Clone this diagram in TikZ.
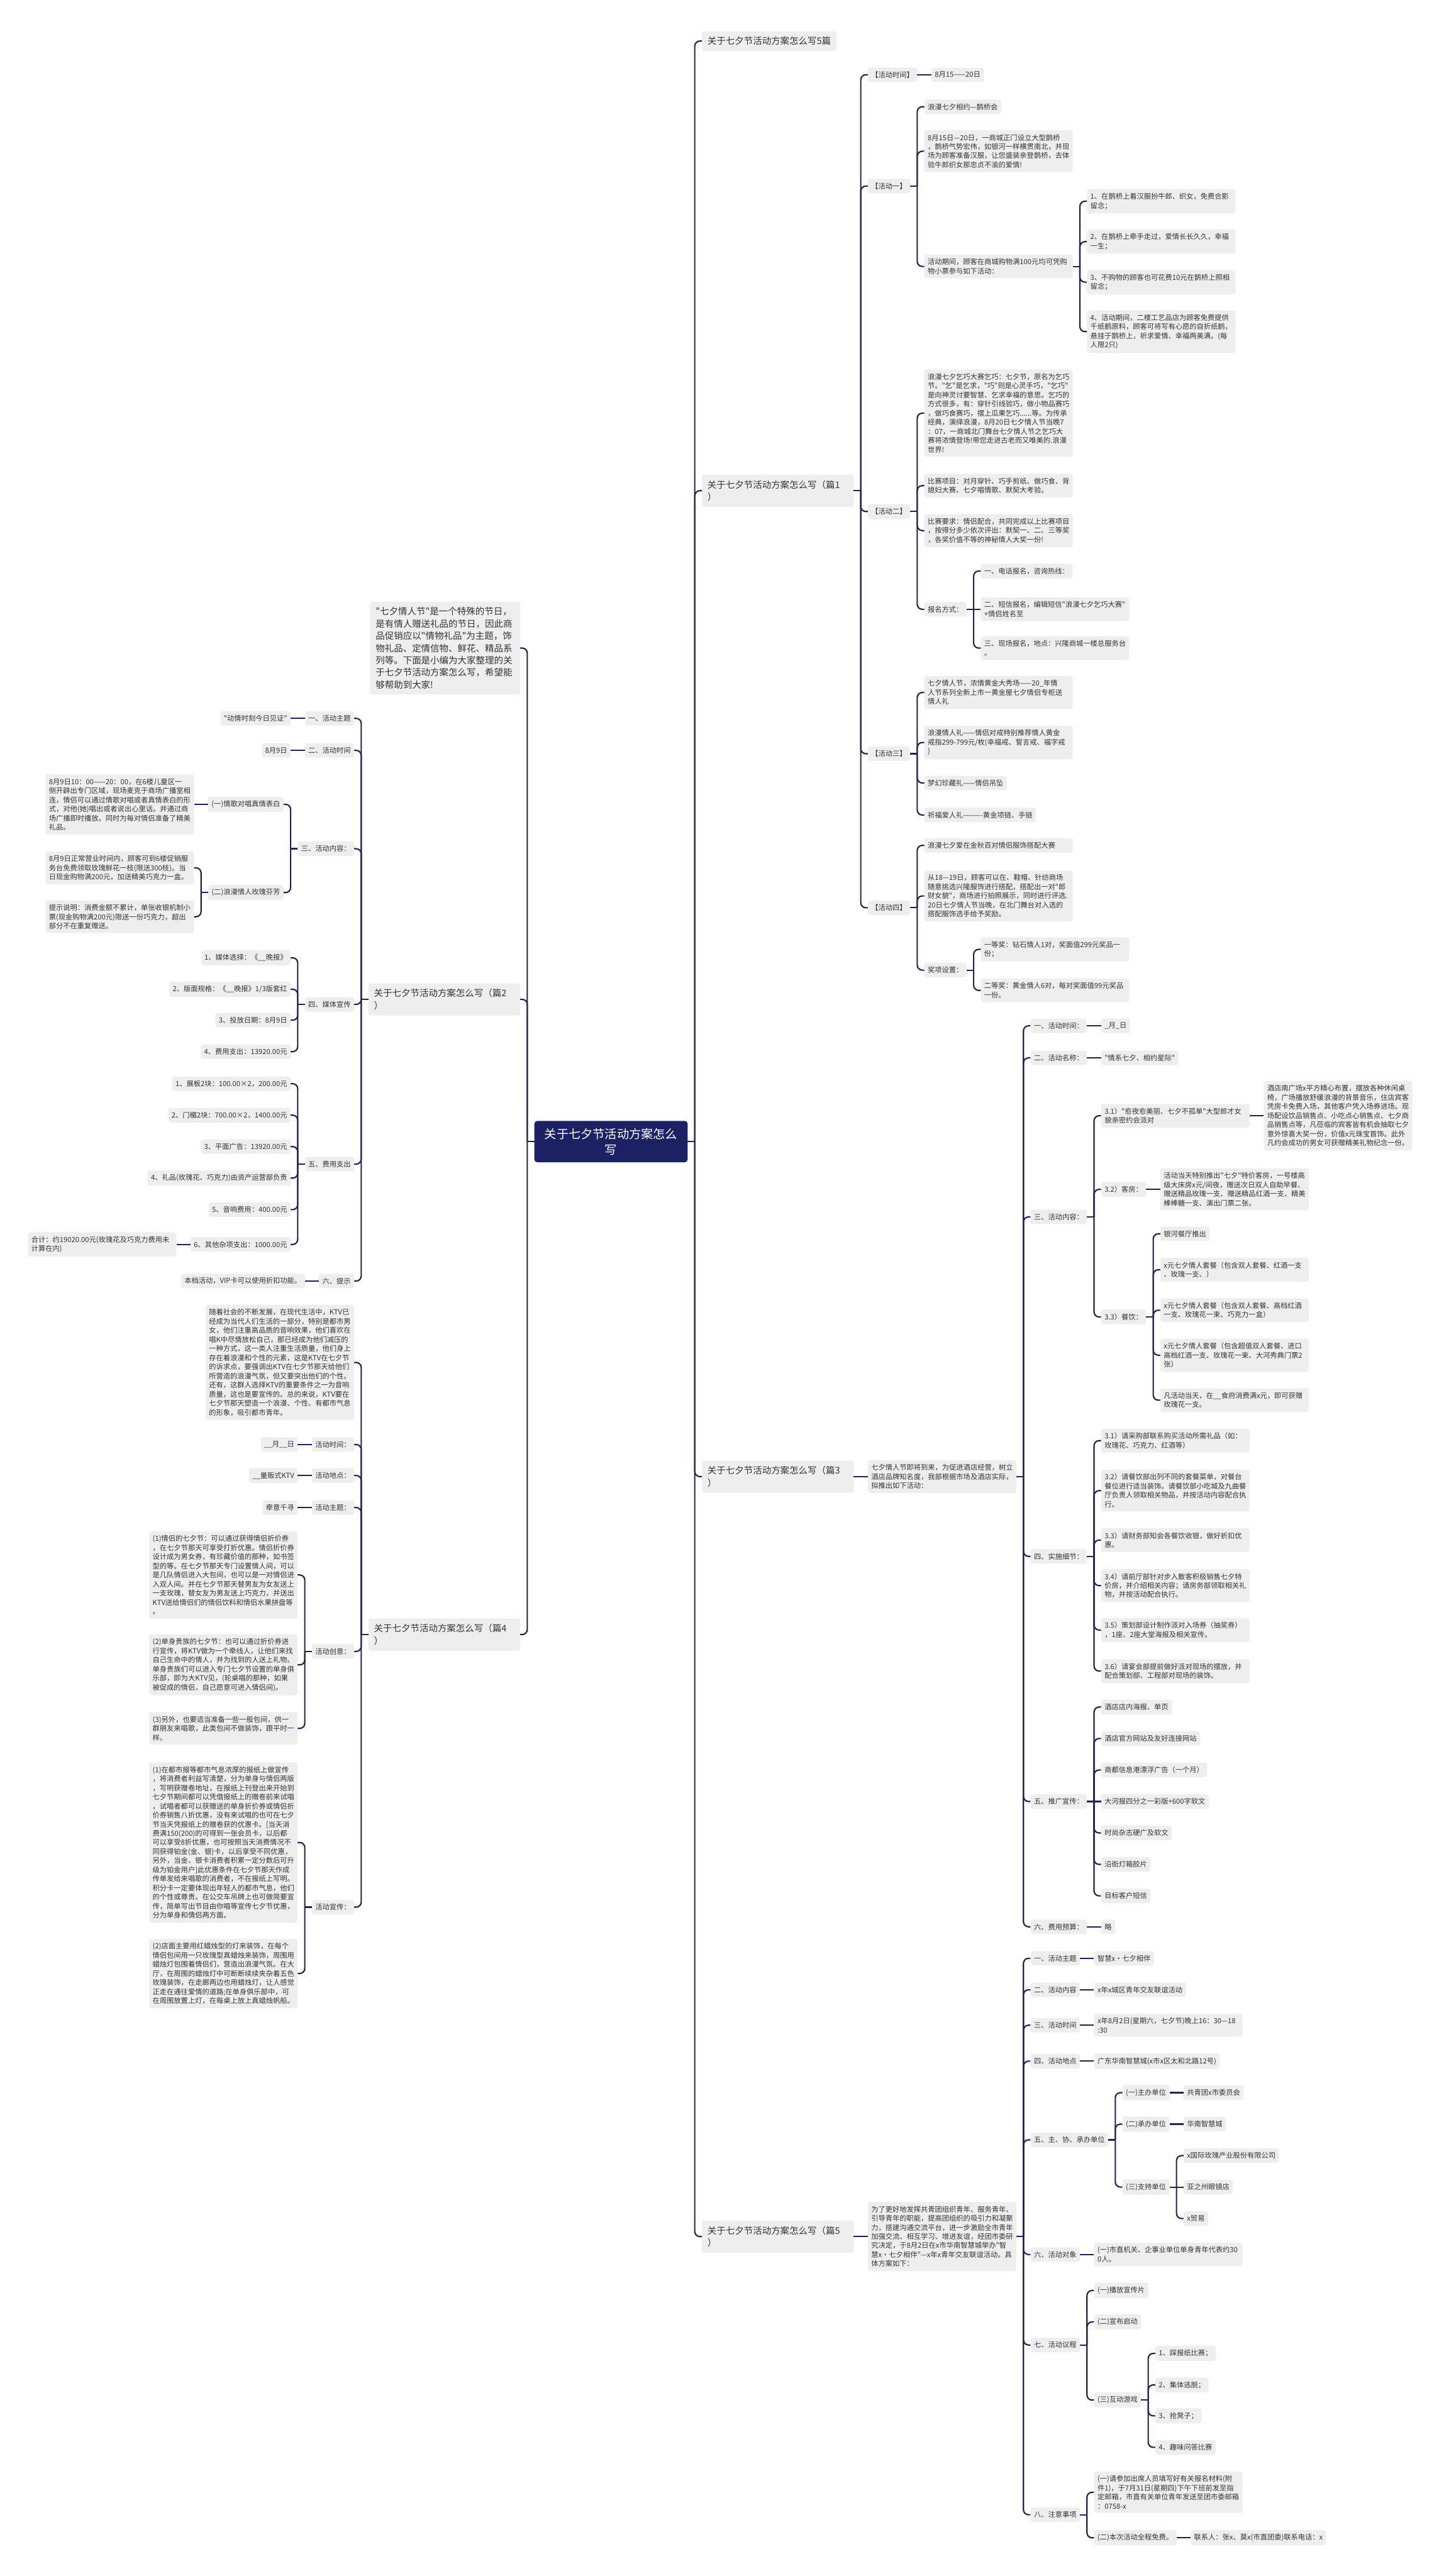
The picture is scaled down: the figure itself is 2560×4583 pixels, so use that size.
\documentclass[tikz,border=0pt]{standalone}
\usepackage{fontspec}
\newfontfamily\cjk{Noto Sans CJK SC}[Ligatures=TeXOff]
\definecolor{ngray}{HTML}{EEEEEE}
\definecolor{txtC}{HTML}{333333}
\definecolor{lineC}{HTML}{1E2350}
\definecolor{rootC}{HTML}{1C2163}
\tikzset{
  conn/.style={draw=lineC,line width=2.4pt},
  base/.style={fill=ngray,text=txtC,rounded corners=4pt,align=left},
  nd/.style={base,font=\cjk\fontsize{12.6}{16.2}\selectfont,inner xsep=6pt,inner ysep=7pt},
  ndw/.style={nd,text width=252pt},
  lvA/.style={base,font=\cjk\fontsize{16.2}{21.7}\selectfont,inner xsep=10pt,inner ysep=10pt},
  lvAw/.style={lvA,text width=250pt},
  introS/.style={lvA,text width=247pt},
  rootS/.style={fill=rootC,text=white,rounded corners=5pt,align=center,font=\cjk\fontsize{21.5}{28}\selectfont,inner xsep=18pt,inner ysep=13pt},
}
\newcommand\brR[5]{%
  \node[#4,anchor=west] (#1) at ([xshift=25pt]#2.east |- 0,#3) {#5};
  \draw[conn] (#2.east) -- ([xshift=12.5pt]#2.east);
  \draw[conn,rounded corners=9pt] ([xshift=12.5pt]#2.east) |- (#1.west);
}
\newcommand\brL[5]{%
  \node[#4,anchor=east] (#1) at ([xshift=-25pt]#2.west |- 0,#3) {#5};
  \draw[conn] (#2.west) -- ([xshift=-12.5pt]#2.west);
  \draw[conn,rounded corners=9pt] ([xshift=-12.5pt]#2.west) |- (#1.east);
}
\newcommand\stR[4]{%
  \node[#3,anchor=west] (#1) at ([xshift=25pt]#2.east) {#4};
  \draw[conn] (#2.east) -- (#1.west);
}
\newcommand\stL[4]{%
  \node[#3,anchor=east] (#1) at ([xshift=-25pt]#2.west) {#4};
  \draw[conn] (#2.west) -- (#1.east);
}
\begin{document}
\begin{tikzpicture}[x=1pt,y=-1pt]
\fill[white] (0,0) rectangle (2560,4583);
\useasboundingbox (0,0) rectangle (2560,4583);

\node[rootS] (root) at (1087,2031) {关于七夕节活动方案怎么\\写};

% ---------- right side ----------
\brR{r0}{root}{73}{lvA}{关于七夕节活动方案怎么写5篇}
\brR{r1}{root}{873}{lvAw}{关于七夕节活动方案怎么写（篇1\\）}
\brR{r3}{root}{2627}{lvAw}{关于七夕节活动方案怎么写（篇3\\）}
\brR{r5}{root}{3979}{lvAw}{关于七夕节活动方案怎么写（篇5\\）}

% 篇1
\brR{a0}{r1}{133}{nd}{【活动时间】}
\stR{a0a}{a0}{nd}{8月15——20日}
\brR{a1}{r1}{331}{nd}{【活动一】}
\brR{a1a}{a1}{190}{nd}{浪漫七夕相约—鹊桥会}
\brR{a1b}{a1}{269}{ndw}{8月15日—20日，一商城正门设立大型鹊桥\\，鹊桥气势宏伟，如银河一样横贯南北，并现\\场为顾客准备汉服，让您盛装亲登鹊桥，去体\\验牛郎织女那忠贞不渝的爱情!}
\brR{a1c}{a1}{474}{ndw}{活动期间，顾客在商城购物满100元均可凭购\\物小票参与如下活动：}
\brR{a1c1}{a1c}{358}{ndw}{1、在鹊桥上着汉服扮牛郎、织女，免费合影\\留念；}
\brR{a1c2}{a1c}{430}{ndw}{2、在鹊桥上牵手走过，爱情长长久久，幸福\\一生；}
\brR{a1c3}{a1c}{502}{ndw}{3、不购物的顾客也可花费10元在鹊桥上照相\\留念；}
\brR{a1c4}{a1c}{590}{ndw}{4、活动期间，二楼工艺品店为顾客免费提供\\千纸鹤原料，顾客可将写有心愿的自折纸鹤，\\悬挂于鹊桥上，祈求爱情、幸福两美满。(每\\人限2只)}
\brR{a2}{r1}{910}{nd}{【活动二】}
\brR{a2a}{a2}{735}{ndw}{浪漫七夕乞巧大赛乞巧：七夕节，原名为乞巧\\节。"乞"是乞求，"巧"则是心灵手巧，"乞巧"\\是向神灵讨要智慧、乞求幸福的意思。乞巧的\\方式很多，有：穿针引线验巧，做小物品赛巧\\，做巧食赛巧，摆上瓜果乞巧......等。为传承\\经典，演绎浪漫，8月20日七夕情人节当晚7\\：07，一商城北门舞台七夕情人节之乞巧大\\赛将浓情登场!带您走进古老而又唯美的.浪漫\\世界!}
\brR{a2b}{a2}{864}{ndw}{比赛项目：对月穿针、巧手剪纸、做巧食、背\\媳妇大赛、七夕唱情歌、默契大考验。}
\brR{a2c}{a2}{944}{ndw}{比赛要求：情侣配合，共同完成以上比赛项目\\，按得分多少依次评出：默契一、二、三等奖\\，各奖价值不等的神秘情人大奖一份!}
\brR{a2d}{a2}{1084}{nd}{报名方式：}
\brR{a2d1}{a2d}{1016}{nd}{一、电话报名，咨询热线：}
\stR{a2d2}{a2d}{ndw}{二、短信报名，编辑短信"浪漫七夕乞巧大赛"\\+情侣姓名至}
\brR{a2d3}{a2d}{1153}{ndw}{三、现场报名，地点：兴隆商城一楼总服务台\\。}
\brR{a3}{r1}{1341}{nd}{【活动三】}
\brR{a3a}{a3}{1232}{ndw}{七夕情人节，浓情黄金大秀场——20\_年情\\人节系列全新上市一黄金屋七夕情侣专柜送\\情人礼}
\brR{a3b}{a3}{1321}{ndw}{浪漫情人礼——情侣对戒特别推荐情人黄金\\戒指299-799元/枚(幸福戒、誓言戒、福字戒\\)}
\brR{a3c}{a3}{1393}{nd}{梦幻珍藏礼——情侣吊坠}
\brR{a3d}{a3}{1450}{nd}{祈福爱人礼———-黄金项链、手链}
\brR{a4}{r1}{1615}{nd}{【活动四】}
\brR{a4a}{a4}{1504}{ndw}{浪漫七夕爱在金秋百对情侣服饰搭配大赛}
\brR{a4b}{a4}{1594}{ndw}{从18—19日，顾客可以在、鞋帽、针纺商场\\随意挑选兴隆服饰进行搭配，搭配出一对"郎\\财女貌"，商场进行拍照展示，同时进行评选.\\20日七夕情人节当晚，在北门舞台对入选的\\搭配服饰选手给予奖励。}
\brR{a4c}{a4}{1726}{nd}{奖项设置：}
\brR{a4c1}{a4c}{1689}{ndw}{一等奖：钻石情人1对，奖面值299元奖品一\\份；}
\brR{a4c2}{a4c}{1762}{ndw}{二等奖：黄金情人6对，每对奖面值99元奖品\\一份。}

% 篇3
\stR{b0}{r3}{ndw}{七夕情人节即将到来，为促进酒店经营，树立\\酒店品牌知名度，我部根据市场及酒店实际，\\拟推出如下活动：}
\brR{b1}{b0}{1825}{nd}{一、活动时间：}
\stR{b1a}{b1}{nd}{\_月\_日}
\brR{b2}{b0}{1882}{nd}{二、活动名称：}
\stR{b2a}{b2}{nd}{"情系七夕、相约星际"}
\brR{b3}{b0}{2165}{nd}{三、活动内容：}
\brR{b31}{b3}{1985}{ndw}{3.1）"愈夜愈美丽、七夕不孤单"大型郎才女\\貌亲密约会派对}
\stR{b31a}{b31}{ndw}{酒店南广场x平方精心布置，摆放各种休闲桌\\椅，广场播放舒缓浪漫的背景音乐，住店宾客\\凭房卡免费入场，其他客户凭入场券进场。现\\场配设饮品销售点、小吃点心销售点、七夕商\\品销售点等，凡莅临的宾客皆有机会抽取七夕\\意外惊喜大奖一份，价值x元珠宝首饰。此外\\凡约会成功的男女可获赠精美礼物纪念一份。}
\brR{b32}{b3}{2116}{nd}{3.2）客房：}
\stR{b32a}{b32}{ndw}{活动当天特别推出"七夕"特价客房，一号楼高\\级大床房x元/间夜，赠送次日双人自助早餐、\\赠送精品玫瑰一支、赠送精品红酒一支、精美\\棒棒糖一支、演出门票二张。}
\brR{b33}{b3}{2343}{nd}{3.3）餐饮：}
\brR{b33a}{b33}{2195}{nd}{银河餐厅推出}
\brR{b33b}{b33}{2259}{ndw}{x元七夕情人套餐（包含双人套餐、红酒一支\\、玫瑰一支、）}
\brR{b33c}{b33}{2331}{ndw}{x元七夕情人套餐（包含双人套餐、高档红酒\\一支、玫瑰花一束、巧克力一盒）}
\brR{b33d}{b33}{2411}{ndw}{x元七夕情人套餐（包含超值双人套餐、进口\\高档红酒一支、玫瑰花一束、大河秀典门票2\\张）}
\brR{b33e}{b33}{2491}{ndw}{凡活动当天，在\_\_食府消费满x元，即可获赠\\玫瑰花一支。}
\brR{b4}{b0}{2769}{nd}{四、实施细节：}
\brR{b41}{b4}{2563}{ndw}{3.1）请采购部联系购买活动所需礼品（如：\\玫瑰花、巧克力、红酒等）}
\brR{b42}{b4}{2652}{ndw}{3.2）请餐饮部出列不同的套餐菜单，对餐台\\餐位进行适当装饰。请餐饮部小吃城及九曲餐\\厅负责人领取相关物品，并按活动内容配合执\\行。}
\brR{b43}{b4}{2740}{ndw}{3.3）请财务部知会各餐饮收银，做好折扣优\\惠。}
\brR{b44}{b4}{2821}{ndw}{3.4）请前厅部针对步入散客积极销售七夕特\\价房，并介绍相关内容；请房务部领取相关礼\\物，并按活动配合执行。}
\brR{b45}{b4}{2900}{ndw}{3.5）策划部设计制作派对入场券（抽奖券）\\，1座、2座大堂海报及相关宣传。}
\brR{b46}{b4}{2973}{ndw}{3.6）请宴会部提前做好派对现场的摆放，并\\配合策划部、工程部对现场的装饰。}
\brR{b5}{b0}{3205}{nd}{五、推广宣传：}
\brR{b51}{b5}{3037}{nd}{酒店店内海报、单页}
\brR{b52}{b5}{3093}{nd}{酒店官方网站及友好连接网站}
\brR{b53}{b5}{3149}{nd}{商都信息港漂浮广告（一个月）}
\stR{b54}{b5}{nd}{大河报四分之一彩版+600字软文}
\brR{b55}{b5}{3261}{nd}{时尚杂志硬广及软文}
\brR{b56}{b5}{3317}{nd}{沿街灯箱胶片}
\brR{b57}{b5}{3373}{nd}{目标客户短信}
\brR{b6}{b0}{3428}{nd}{六、费用预算：}
\stR{b6a}{b6}{nd}{略}

% 篇5
\stR{c0}{r5}{ndw}{为了更好地发挥共青团组织青年、服务青年、\\引导青年的职能，提高团组织的吸引力和凝聚\\力，搭建沟通交流平台，进一步激励全市青年\\加强交流、相互学习、增进友谊，经团市委研\\究决定，于8月2日在x市华南智慧城举办"智\\慧x·七夕相伴"—x年x青年交友联谊活动。具\\体方案如下：}
\brR{c1}{c0}{3484}{nd}{一、活动主题}
\stR{c1a}{c1}{nd}{智慧x·七夕相伴}
\brR{c2}{c0}{3540}{nd}{二、活动内容}
\stR{c2a}{c2}{nd}{x年x城区青年交友联谊活动}
\brR{c3}{c0}{3603}{nd}{三、活动时间}
\stR{c3a}{c3}{ndw}{x年8月2日(星期六，七夕节)晚上16：30—18\\:30}
\brR{c4}{c0}{3667}{nd}{四、活动地点}
\stR{c4a}{c4}{nd}{广东华南智慧城(x市x区太和北路12号)}
\brR{c5}{c0}{3807}{nd}{五、主、协、承办单位}
\brR{c51}{c5}{3723}{nd}{(一)主办单位}
\stR{c51a}{c51}{nd}{共青团x市委员会}
\brR{c52}{c5}{3779}{nd}{(二)承办单位}
\stR{c52a}{c52}{nd}{华南智慧城}
\brR{c53}{c5}{3891}{nd}{(三)支持单位}
\brR{c531}{c53}{3835}{nd}{x国际玫瑰产业股份有限公司}
\stR{c532}{c53}{nd}{亚之州眼镜店}
\brR{c533}{c53}{3947}{nd}{x贸易}
\brR{c6}{c0}{4011}{nd}{六、活动对象}
\stR{c6a}{c6}{ndw}{(一)市直机关、企事业单位单身青年代表约30\\0人。}
\brR{c7}{c0}{4172}{nd}{七、活动议程}
\brR{c71}{c7}{4075}{nd}{(一)播放宣传片}
\brR{c72}{c7}{4131}{nd}{(二)宣布启动}
\brR{c73}{c7}{4270}{nd}{(三)互动游戏}
\brR{c731}{c73}{4187}{nd}{1、踩报纸比赛；}
\brR{c732}{c73}{4243}{nd}{2、集体逃脱；}
\brR{c733}{c73}{4298}{nd}{3、抢凳子；}
\brR{c734}{c73}{4354}{nd}{4、趣味问答比赛}
\brR{c8}{c0}{4474}{nd}{八、注意事项}
\brR{c81}{c8}{4434}{ndw}{(一)请参加出席人员填写好有关报名材料(附\\件1)，于7月31日(星期四)下午下班前发至指\\定邮箱，市直有关单位青年发送至团市委邮箱\\：0758-x}
\brR{c82}{c8}{4515}{nd}{(二)本次活动全程免费。}
\stR{c82a}{c82}{nd}{联系人：张x、莫x(市直团委)联系电话：x}

% ---------- left side ----------
\brL{intro}{root}{1153}{introS}{"七夕情人节"是一个特殊的节日，\\是有情人赠送礼品的节日，因此商\\品促销应以"情物礼品"为主题，饰\\物礼品、定情信物、鲜花、精品系\\列等。下面是小编为大家整理的关\\于七夕节活动方案怎么写，希望能\\够帮助到大家!}
\brL{l2}{root}{1778}{lvAw}{关于七夕节活动方案怎么写（篇2\\）}
\brL{l4}{root}{2908}{lvAw}{关于七夕节活动方案怎么写（篇4\\）}

% 篇2
\brL{d1}{l2}{1278}{nd}{一、活动主题}
\stL{d1a}{d1}{nd}{"动情时刻今日见证"}
\brL{d2}{l2}{1335}{nd}{二、活动时间}
\stL{d2a}{d2}{nd}{8月9日}
\brL{d3}{l2}{1510}{nd}{三、活动内容：}
\brL{d31}{d3}{1431}{nd}{(一)情歌对唱真情表白}
\stL{d31a}{d31}{ndw}{8月9日10：00——20：00，在6楼儿童区一\\侧开辟出专门区域，现场麦克于商场广播室相\\连，情侣可以通过情歌对唱或者真情表白的形\\式，对他(她)唱出或者说出心里话。并通过商\\场广播即时播放。同时为每对情侣准备了精美\\礼品。}
\brL{d32}{d3}{1588}{nd}{(二)浪漫情人玫瑰芬芳}
\brL{d32a}{d32}{1544}{ndw}{8月9日正常营业时间内，顾客可到6楼促销服\\务台免费领取玫瑰鲜花一枝(限送300枝)。当\\日现金购物满200元，加送精美巧克力一盒。}
\brL{d32b}{d32}{1631}{ndw}{提示说明：消费金额不累计，单张收银机制小\\票(现金购物满200元)限送一份巧克力，超出\\部分不在重复赠送。}
\brL{d4}{l2}{1787}{nd}{四、媒体宣传}
\brL{d41}{d4}{1704}{nd}{1、媒体选择：《\_\_晚报》}
\brL{d42}{d4}{1760}{nd}{2、版面规格：《\_\_晚报》1/3版套红}
\brL{d43}{d4}{1815}{nd}{3、投放日期：8月9日}
\brL{d44}{d4}{1871}{nd}{4、费用支出：13920.00元}
\brL{d5}{l2}{2071}{nd}{五、费用支出}
\brL{d51}{d5}{1928}{nd}{1、展板2块：100.00×2，200.00元}
\brL{d52}{d5}{1984}{nd}{2、门楣2块：700.00×2，1400.00元}
\brL{d53}{d5}{2040}{nd}{3、平面广告：13920.00元}
\brL{d54}{d5}{2096}{nd}{4、礼品(玫瑰花、巧克力)由资产运营部负责}
\brL{d55}{d5}{2152}{nd}{5、音响费用：400.00元}
\brL{d56}{d5}{2214}{nd}{6、其他杂项支出：1000.00元}
\stL{d56a}{d56}{ndw}{合计：约19020.00元(玫瑰花及巧克力费用未\\计算在内)}
\brL{d6}{l2}{2279}{nd}{六、提示}
\stL{d6a}{d6}{nd}{本档活动，VIP卡可以使用折扣功能。}

% 篇4
\brL{e0}{l4}{2424}{ndw}{随着社会的不断发展，在现代生活中，KTV已\\经成为当代人们生活的一部分，特别是都市男\\女，他们注重高品质的音响效果，他们喜欢在\\唱K中尽情放松自己，那已经成为他们减压的\\一种方式，这一类人注重生活质量，他们身上\\存在着浪漫和个性的元素，这是KTV在七夕节\\的诉求点，要强调出KTV在七夕节那天给他们\\所营造的浪漫气氛，但又要突出他们的个性。\\还有，这群人选择KTV的重要条件之一为音响\\质量，这也是要宣传的。总的来说，KTV要在\\七夕节那天塑造一个浪漫、个性、有都市气息\\的形象，吸引都市青年。}
\brL{e1}{l4}{2570}{nd}{活动时间：}
\stL{e1a}{e1}{nd}{\_\_月\_\_日}
\brL{e2}{l4}{2625}{nd}{活动地点：}
\stL{e2a}{e2}{nd}{\_\_量贩式KTV}
\brL{e3}{l4}{2682}{nd}{活动主题：}
\stL{e3a}{e3}{nd}{牵意千寻}
\brL{e4}{l4}{2938}{nd}{活动创意：}
\brL{e41}{e4}{2802}{ndw}{(1)情侣的七夕节：可以通过获得情侣折价券\\，在七夕节那天可享受打折优惠。情侣折价券\\设计成为男女券，有珍藏价值的那种，如书签\\型的等。在七夕节那天专门设置情人间，可以\\是几队情侣进入大包间，也可以是一对情侣进\\入双人间。并在七夕节那天替男友为女友送上\\一支玫瑰，替女友为男友送上巧克力，并送出\\KTV送给情侣们的情侣饮料和情侣水果拼盘等\\。}
\brL{e42}{e4}{2962}{ndw}{(2)单身贵族的七夕节：也可以通过折价券进\\行宣传，将KTV做为一个牵线人，让他们来找\\自己生命中的情人，并为找到的人送上礼物。\\单身贵族们可以进入专门七夕节设置的单身俱\\乐部，即为大KTV见，(轮桌唱的那种，如果\\被促成的情侣，自己愿意可进入情侣间)。}
\brL{e43}{e4}{3075}{ndw}{(3)另外，也要适当准备一些一般包间，供一\\群朋友来唱歌，此类包间不做装饰，跟平时一\\样。}
\brL{e5}{l4}{3393}{nd}{活动宣传：}
\brL{e51}{e5}{3278}{ndw}{(1)在都市报等都市气息浓厚的报纸上做宣传\\，将消费者利益写清楚，分为单身与情侣两版\\，写明获赠卷地址，在报纸上刊登出来开始到\\七夕节期间都可以凭借报纸上的赠卷前来试唱\\，试唱者都可以获赠送的单身折价券或情侣折\\价券销售八折优惠，没有来试唱的也可在七夕\\节当天凭报纸上的赠卷获的优惠卡。[当天消\\费满150(200)的可得到一张会员卡，以后都\\可以享受8折优惠，也可按照当天消费情况不\\同获得铂金(金、银)卡，以后享受不同优惠，\\另外，当金、银卡消费者积累一定分数后可升\\级为铂金用户]此优惠条件在七夕节那天作成\\传单发给来唱歌的消费者，不在报纸上写明。\\积分卡一定要体现出年轻人的都市气息，他们\\的个性或尊贵。在公交车吊牌上也可做简要宣\\传，简单写出节目由你唱等宣传七夕节优惠，\\分为单身和情侣两方面。}
\brL{e52}{e5}{3511}{ndw}{(2)店面主要用红蜡烛型的灯来装饰，在每个\\情侣包间用一只玫瑰型真蜡烛来装饰，周围用\\蜡烛灯包围着情侣们，营造出浪漫气氛。在大\\厅，在周围的蜡烛灯中可断断续续夹杂着五色\\玫瑰装饰，在走廊两边也用蜡烛灯，让人感觉\\正走在通往爱情的道路;在单身俱乐部中，可\\在周围放置上灯，在每桌上放上真蜡烛帆船。}

\end{tikzpicture}
\end{document}
